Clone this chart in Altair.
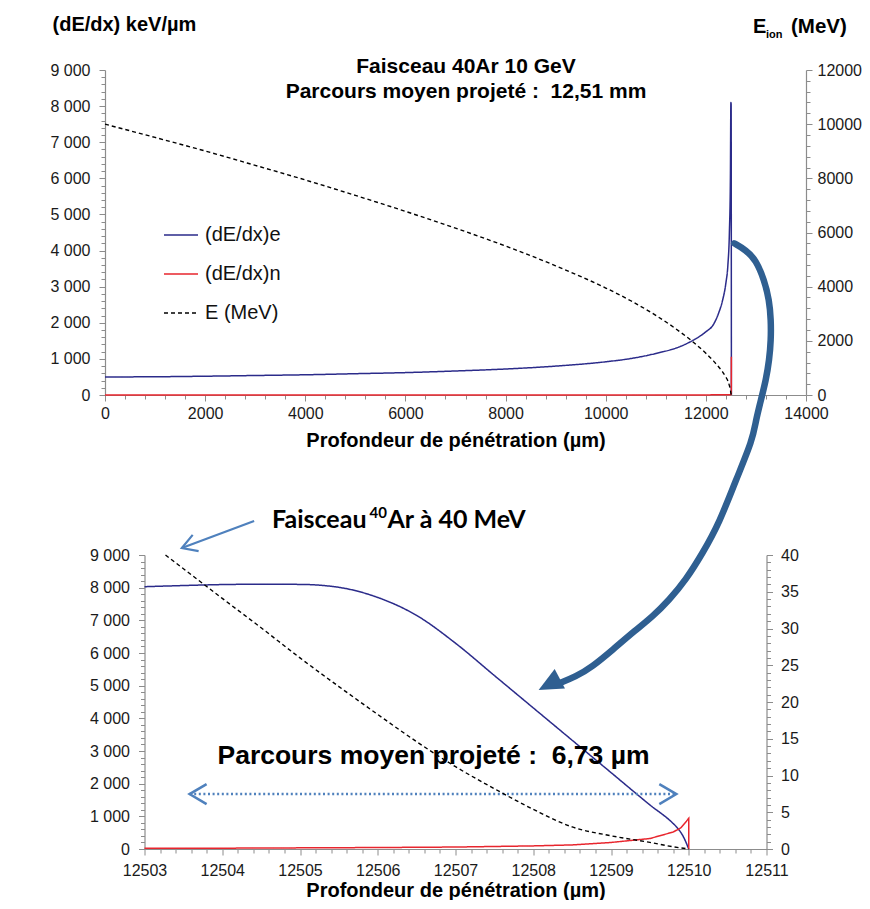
import altair as alt
import pandas as pd

# ---------------- series names / colours ----------------
SERIES = ["(dE/dx)e", "(dE/dx)n", "E (MeV)"]
COLORS = ["#2b2b8a", "#e8262e", "#000000"]
DASHES = [[1, 0], [1, 0], [4, 3]]

# ---------------- top chart : 40Ar 10 GeV ----------------
top_depth = [0, 1000, 2000, 3000, 4000, 5000, 6000, 7000, 8000, 9000, 10000, 10500,
             11000, 11500, 11750, 12000, 12150, 12250, 12330, 12400, 12440, 12470,
             12490, 12500, 12505, 12510]
top_dedx_e = [500, 505, 520, 540, 560, 590, 620, 665, 720, 800, 920, 1010,
              1150, 1350, 1520, 1750, 1950, 2250, 2600, 3100, 3600, 4500,
              6000, 8100, 8050, 0]
top_energy = [10000, 9510, 9010, 8480, 7940, 7370, 6780, 6160, 5500, 4770, 3950, 3480,
              2940, 2310, 1950, 1540, 1260, 1050, 860, 660, 520, 350,
              200, 66, 26, 0]
top_depth_n = [0, 2000, 4000, 6000, 8000, 10000, 11000, 12000, 12400, 12500, 12508, 12510]
top_dedx_n = [1, 1, 1, 2, 2, 2, 3, 3, 5, 10, 60, 1060]

# ---------------- bottom chart : 40Ar 40 MeV ----------------
bot_depth_e = [12503.0, 12503.5, 12504.0, 12504.5, 12505.0, 12505.5, 12506.0, 12506.5,
               12507.0, 12507.5, 12508.0, 12508.5, 12509.0, 12509.5, 12509.8,
               12509.84, 12509.93, 12510.0]
bot_dedx_e = [8030, 8065, 8095, 8105, 8100, 8010, 7700, 7150,
              6300, 5310, 4320, 3330, 2340, 1350, 780,
              683, 380, 0]
bot_depth_n = [12503.0, 12504.0, 12505.0, 12506.0, 12507.0, 12508.0, 12508.5, 12509.0,
               12509.5, 12509.8, 12509.9, 12509.97, 12510.0, 12510.0]
bot_dedx_n = [20, 25, 35, 45, 60, 95, 125, 200, 320, 520, 650, 850, 940, 0]
bot_depth_E = [12503.27, 12504.0, 12504.5, 12505.0, 12505.5, 12506.0, 12506.5, 12507.0,
               12507.5, 12508.0, 12508.5, 12509.0, 12509.5, 12509.8, 12510.0]
bot_energy = [40, 34.1, 30.1, 26.0, 22.1, 18.3, 14.6, 11.2,
              8.2, 5.4, 3.0, 1.8, 0.9, 0.3, 0]

# ---------------- axis ticks ----------------
top_x_ticks = [i * 400 for i in range(36)]
top_left_ticks = [i * 200 for i in range(46)]
top_right_ticks = [i * 400 for i in range(31)]
bot_x_ticks = [round(12503 + i * 0.2, 1) for i in range(41)]
bot_left_ticks = [i * 200 for i in range(46)]
bot_right_ticks = list(range(0, 41))

# ---------------- annotations ----------------
TOP_TITLE_1 = "Faisceau 40Ar 10 GeV"
TOP_TITLE_2 = "Parcours moyen projeté :\u00a0 12,51 mm"
LEFT_TITLE = "(dE/dx) keV/µm"
X_TITLE = "Profondeur de pénétration (µm)"
BOT_RANGE_TEXT = "Parcours moyen projeté :\u00a0 6,73 µm"
BOT_BEAM_TEXT = ["Faisceau", "40", "Ar à 40 MeV"]

# curved arrow (top chart data coordinates, runs below its plot)
arrow_depth = [12566, 12800, 13000, 13166, 13266, 13300, 13300, 13266, 13200, 13100,
               13000, 12934, 12600, 12266, 11934, 11600, 11266, 10934, 10600, 10134,
               9734, 9400, 9066]
arrow_level = [4201, 4015, 3738, 3185, 2631, 2077, 1523, 969, 415, -138,
               -692, -1246, -2354, -3553, -4384, -5123, -5677, -6139, -6508, -7061,
               -7524, -7801, -7984]
arrow_tip = (8660, -8169)

range_arrow_x = [12503.58, 12509.84]
range_arrow_y = 1680
beam_arrow_x = [12504.41, 12503.48]
beam_arrow_y = [10040, 9213]

ARROW_BLUE = "#2f5f91"
LIGHT_BLUE = "#4f81bd"
FONT = "Liberation Sans"


def minor_axis(values, major_test, fmt, **kw):
    return alt.Axis(
        values=values,
        labelExpr=f"({major_test}) ? {fmt} : ''",
        tickSize={"condition": {"test": major_test, "value": 6}, "value": 4},
        labelOverlap=False,
        labelFlush=False,
        grid=False,
        **kw,
    )


SPACE_FMT = "replace(format(datum.value, ','), ',', ' ')"
INT_FMT = "format(datum.value, 'd')"

legend = alt.Legend(
    title=None, orient="none", legendX=58, legendY=147,
    symbolType="stroke", symbolSize=1156, symbolStrokeWidth=1.5,
    labelFontSize=20, labelFont=FONT, labelColor="#111111",
    labelOffset=6, rowPadding=11,
)
color_enc = alt.Color("series:N", scale=alt.Scale(domain=SERIES, range=COLORS), legend=legend)
dash_enc = alt.StrokeDash("series:N", scale=alt.Scale(domain=SERIES, range=DASHES), legend=legend)

# ================= TOP CHART =================
top_x_axis = minor_axis(top_x_ticks, "datum.value % 2000 === 0", INT_FMT,
                        title=X_TITLE, titleY=51, titleBaseline="alphabetic",
                        labelPadding=4)
top_left_axis = minor_axis(top_left_ticks, "datum.value % 1000 === 0", SPACE_FMT,
                           title=LEFT_TITLE, titleAngle=0, titleAlign="left",
                           titleBaseline="alphabetic", titleX=-53, titleY=-40,
                           labelPadding=9)
top_right_axis = minor_axis(top_right_ticks, "datum.value % 2000 === 0", INT_FMT,
                            title=None, orient="right", labelPadding=5)

TX = alt.X("depth:Q", scale=alt.Scale(domain=[0, 14000], nice=False), axis=top_x_axis)
TYL = alt.Y("value:Q", scale=alt.Scale(domain=[0, 9000], nice=False), axis=top_left_axis)
TYR = alt.Y("energy:Q", scale=alt.Scale(domain=[0, 12000], nice=False), axis=top_right_axis)

top_e_df = pd.DataFrame({"depth": top_depth, "value": top_dedx_e, "series": SERIES[0],
                         "i": list(range(len(top_depth)))})
top_n_df = pd.DataFrame({"depth": top_depth_n, "value": top_dedx_n, "series": SERIES[1],
                         "i": list(range(len(top_depth_n)))})
top_E_df = pd.DataFrame({"depth": top_depth, "energy": top_energy,
                         "series": SERIES[2], "i": list(range(len(top_depth)))})

top_e = alt.Chart(top_e_df).mark_line(strokeWidth=1.5, interpolate="monotone").encode(
    x=TX, y=TYL, color=color_enc, strokeDash=dash_enc, order="i:Q")
top_n = alt.Chart(top_n_df).mark_line(strokeWidth=1.5).encode(
    x=TX, y=TYL, color=color_enc, strokeDash=dash_enc, order="i:Q")

arrow_df = pd.DataFrame({"depth": arrow_depth, "value": arrow_level,
                         "i": list(range(len(arrow_depth)))})
big_arrow = alt.Chart(arrow_df).mark_line(
    color=ARROW_BLUE, strokeWidth=6.5, interpolate="basis", strokeCap="round"
).encode(x=TX, y=TYL, order="i:Q")
big_head = alt.Chart(pd.DataFrame({"depth": [arrow_tip[0]], "value": [arrow_tip[1]]})).mark_point(
    shape="M0,0L2.4,-1.1L2.4,1.1Z", filled=True, size=400, angle=332,
    color=ARROW_BLUE, opacity=1
).encode(x=TX, y=TYL)


def label(text, x, y, size, weight="bold", align="left", font=FONT, color="#000000"):
    return alt.Chart(pd.DataFrame({"t": [text]})).mark_text(
        font=font, fontSize=size, fontWeight=weight, align=align,
        baseline="alphabetic", color=color
    ).encode(text="t:N", x=alt.value(x), y=alt.value(y))


top_texts = [
    label(TOP_TITLE_1, 361, 3, 21, align="center"),
    label(TOP_TITLE_2, 361, 28, 21, align="center"),
    label("E", 648, -37, 20),
    label("ion", 661, -32, 11),
    label("(MeV)", 686, -37, 20.5),
]

top_E = alt.Chart(top_E_df).mark_line(strokeWidth=1.4, interpolate="monotone").encode(
    x=TX, y=TYR, color=color_enc, strokeDash=dash_enc, order="i:Q")

top_chart = alt.layer(
    alt.layer(top_e, top_n, big_arrow, big_head, *top_texts),
    top_E,
).resolve_scale(y="independent").properties(width=701, height=325)

# ================= BOTTOM CHART =================
bot_x_axis = minor_axis(bot_x_ticks, "abs(datum.value - round(datum.value)) < 0.01", INT_FMT,
                        title=X_TITLE, titleY=47, titleBaseline="alphabetic",
                        labelPadding=7)
bot_left_axis = minor_axis(bot_left_ticks, "datum.value % 1000 === 0", SPACE_FMT,
                           title=None, labelPadding=9)
bot_right_axis = minor_axis(bot_right_ticks, "datum.value % 5 === 0", INT_FMT,
                            title=None, orient="right", labelPadding=8)

BX = alt.X("depth:Q", scale=alt.Scale(domain=[12503, 12511], nice=False, zero=False), axis=bot_x_axis)
BYL = alt.Y("value:Q", scale=alt.Scale(domain=[0, 9000], nice=False), axis=bot_left_axis)
BYR = alt.Y("energy:Q", scale=alt.Scale(domain=[0, 40], nice=False), axis=bot_right_axis)

bcolor = alt.Color("series:N", scale=alt.Scale(domain=SERIES, range=COLORS), legend=None)
bdash = alt.StrokeDash("series:N", scale=alt.Scale(domain=SERIES, range=DASHES), legend=None)

bot_e_df = pd.DataFrame({"depth": bot_depth_e, "value": bot_dedx_e, "series": SERIES[0],
                         "i": list(range(len(bot_depth_e)))})
bot_n_df = pd.DataFrame({"depth": bot_depth_n, "value": bot_dedx_n, "series": SERIES[1],
                         "i": list(range(len(bot_depth_n)))})
bot_E_df = pd.DataFrame({"depth": bot_depth_E, "energy": bot_energy,
                         "series": SERIES[2], "i": list(range(len(bot_depth_E)))})

bot_e = alt.Chart(bot_e_df).mark_line(strokeWidth=1.5, interpolate="monotone").encode(
    x=BX, y=BYL, color=bcolor, strokeDash=bdash, order="i:Q")
bot_n = alt.Chart(bot_n_df).mark_line(strokeWidth=1.5).encode(
    x=BX, y=BYL, color=bcolor, strokeDash=bdash, order="i:Q")

range_df = pd.DataFrame({"depth": [range_arrow_x[0]], "x2": [range_arrow_x[1]], "value": [range_arrow_y]})
range_rule = alt.Chart(range_df).mark_rule(
    color=LIGHT_BLUE, strokeWidth=2.5, strokeDash=[2, 2.6]
).encode(x=BX, x2="x2:Q", y=BYL)
left_head = alt.Chart(pd.DataFrame({"depth": [range_arrow_x[0]], "value": [range_arrow_y]})).mark_point(
    shape="M1.7,-1L0,0L1.7,1", filled=False, size=400, strokeWidth=2.5, color=LIGHT_BLUE, opacity=1
).encode(x=BX, y=BYL)
right_head = alt.Chart(pd.DataFrame({"depth": [range_arrow_x[1]], "value": [range_arrow_y]})).mark_point(
    shape="M-1.7,-1L0,0L-1.7,1", filled=False, size=400, strokeWidth=2.5, color=LIGHT_BLUE, opacity=1
).encode(x=BX, y=BYL)

beam_df = pd.DataFrame({"depth": [beam_arrow_x[0]], "x2": [beam_arrow_x[1]],
                        "value": [beam_arrow_y[0]], "y2": [beam_arrow_y[1]]})
beam_rule = alt.Chart(beam_df).mark_rule(color=LIGHT_BLUE, strokeWidth=2.2).encode(
    x=BX, x2="x2:Q", y=BYL, y2="y2:Q")
beam_head = alt.Chart(pd.DataFrame({"depth": [beam_arrow_x[1]], "value": [beam_arrow_y[1]]})).mark_point(
    shape="M1.7,-1L0,0L1.7,1", filled=False, size=300, strokeWidth=2.2, angle=340,
    color=LIGHT_BLUE, opacity=1
).encode(x=BX, y=BYL)

bot_texts = [
    label(BOT_RANGE_TEXT, 289, 209, 26.5, align="center"),
    label(BOT_BEAM_TEXT[0], 222, -27, 25, align="right", font="Lato"),
    label(BOT_BEAM_TEXT[1], 225, -37, 15, font="Lato"),
    label(BOT_BEAM_TEXT[2], 243, -27, 25, font="Lato"),
]

bot_E = alt.Chart(bot_E_df).mark_line(strokeWidth=1.4, interpolate="monotone").encode(
    x=BX, y=BYR, color=bcolor, strokeDash=bdash, order="i:Q")

bot_chart = alt.layer(
    alt.layer(bot_e, bot_n, range_rule, left_head, right_head, beam_rule, beam_head, *bot_texts),
    bot_E,
).resolve_scale(y="independent").properties(width=622, height=294)

chart = alt.vconcat(
    top_chart, bot_chart, spacing=160, bounds="flush", center=True
).resolve_scale(
    color="independent", strokeDash="independent"
).properties(
    padding={"left": 41, "top": 6, "right": 0, "bottom": 0},
    background="white",
).configure_view(stroke=None).configure_axis(
    labelFont=FONT, labelFontSize=16, labelColor="#1a1a1a",
    domainColor="#8c8c8c", tickColor="#8c8c8c", domainWidth=1.2, tickWidth=1,
    titleFont=FONT, titleFontSize=20, titleFontWeight="bold", titleColor="#000000",
)

chart.save("out.html", embed_options={"renderer": "svg", "actions": False})
